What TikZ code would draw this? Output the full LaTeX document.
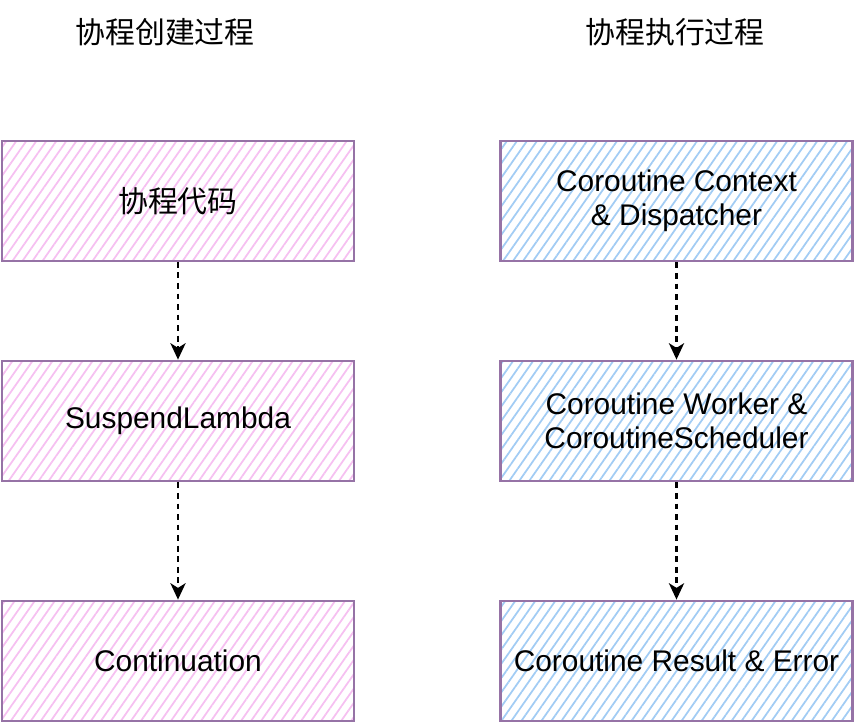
\documentclass[tikz,border=0pt]{standalone}
\usepackage{fontspec}
\setmainfont{Liberation Sans}
\newfontfamily\cjk{Noto Sans CJK SC}
\usepackage{xcolor}
\usetikzlibrary{arrows.meta,patterns.meta,positioning,backgrounds}
\pgfdeclarelayer{edgelayer}
\pgfdeclarelayer{nodelayer}
\pgfsetlayers{background,edgelayer,nodelayer,main}
\definecolor{boxline}{HTML}{9673A6}
\definecolor{pinkhatch}{HTML}{F6C0F1}
\definecolor{bluehatch}{HTML}{A2CCF4}
\tikzstyle{every picture}=[x=0.03cm,y=-0.03cm]
\tikzstyle{block}=[shape=rectangle,draw=boxline,line width=2.4pt,minimum width=10.56cm,minimum height=3.6cm,align=center,font=\fontsize{25.5pt}{29pt}\selectfont]
\tikzstyle{pk}=[block,pattern={Lines[angle=55,distance=7pt,line width=1.5pt]},pattern color=pinkhatch]
\tikzstyle{bl}=[block,pattern={Lines[angle=55,distance=7pt,line width=1.5pt]},pattern color=bluehatch]
\tikzstyle{heading}=[font=\cjk\fontsize{25.5pt}{29pt}\selectfont]
\tikzstyle{flow}=[dash pattern=on 5pt off 4pt,line width=1.8pt,-{Stealth[length=14pt,width=13pt,inset=4pt]}]

\begin{document}
\begin{tikzpicture}
	\useasboundingbox (0,0) rectangle (854,722);
	\begin{pgfonlayer}{nodelayer}
		\node [style=heading] (tl) at (165, 32) {协程创建过程};
		\node [style=heading] (tr) at (675, 32) {协程执行过程};
		\node [style=pk] (code) at (178, 201) {\cjk 协程代码};
		\node [style=pk] (lambda) at (178, 421) {SuspendLambda};
		\node [style=pk] (cont) at (178, 661) {Continuation};
		\node [style=bl] (ctx) at (676.5, 201) {Coroutine Context\\\& Dispatcher};
		\node [style=bl] (worker) at (676.5, 421) {Coroutine Worker \&\\CoroutineScheduler};
		\node [style=bl] (result) at (676.5, 661) {Coroutine Result \& Error};
	\end{pgfonlayer}
	\begin{pgfonlayer}{edgelayer}
		\draw [style=flow] (code) to (lambda);
		\draw [style=flow] (lambda) to (cont);
		\draw [style=flow] (ctx) to (worker);
		\draw [style=flow] (worker) to (result);
	\end{pgfonlayer}
\end{tikzpicture}
\end{document}
